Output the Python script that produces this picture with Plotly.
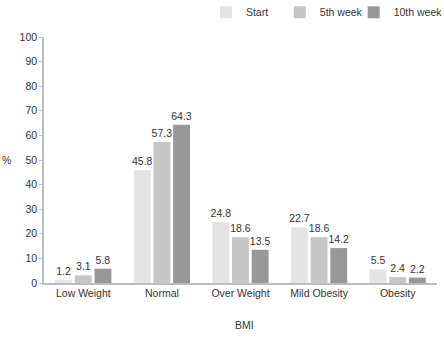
import plotly.graph_objects as go

categories = ["Low Weight", "Normal", "Over Weight", "Mild Obesity", "Obesity"]
start = [1.2, 45.8, 24.8, 22.7, 5.5]
week5 = [3.1, 57.3, 18.6, 18.6, 2.4]
week10 = [5.8, 64.3, 13.5, 14.2, 2.2]
y_ticks = list(range(0, 101, 10))

series = [
    ("Start", start, "#e4e4e4", "legend", 0.412),
    ("5th week", week5, "#c6c6c6", "legend2", 0.600),
    ("10th week", week10, "#989898", "legend3", 0.788),
]

font = dict(family="Liberation Sans, Arial, sans-serif", size=10.5, color="#333333")

fig = go.Figure()
legends = {}
for name, vals, color, leg, lx in series:
    fig.add_trace(go.Bar(
        name=name, x=categories, y=vals, legend=leg,
        marker=dict(color=color, line=dict(width=0)),
        text=[f"{v:.1f}" for v in vals], textposition="outside",
        constraintext="none", textfont=font, cliponaxis=False,
    ))
    legends[leg] = dict(orientation="h", x=lx, y=1.16, xanchor="left", yanchor="top",
                        itemwidth=30, font=font, bgcolor="rgba(0,0,0,0)")

fig.update_layout(
    width=444, height=338,
    margin=dict(l=44, r=7, t=37, b=55, autoexpand=False),
    paper_bgcolor="white", plot_bgcolor="white",
    font=font,
    barmode="group", bargap=0.25, bargroupgap=0.14,
    showlegend=True,
    **legends,
    xaxis=dict(showline=True, linecolor="#bdbdbd", linewidth=1.5, ticks="",
               showgrid=False, automargin=False),
    yaxis=dict(range=[0, 100], tickvals=y_ticks, showline=True, linecolor="#bdbdbd",
               linewidth=1.5, ticks="outside", ticklen=3, tickcolor="#bdbdbd",
               showgrid=False, zeroline=False, automargin=False),
    annotations=[
        dict(text="%", xref="paper", yref="paper", x=-0.095, y=0.5,
             xanchor="center", yanchor="middle", showarrow=False, font=font),
        dict(text="BMI", xref="paper", yref="paper", x=0.51, y=-0.17,
             xanchor="center", yanchor="middle", showarrow=False, font=font),
    ],
)

fig.write_html("out.html")
